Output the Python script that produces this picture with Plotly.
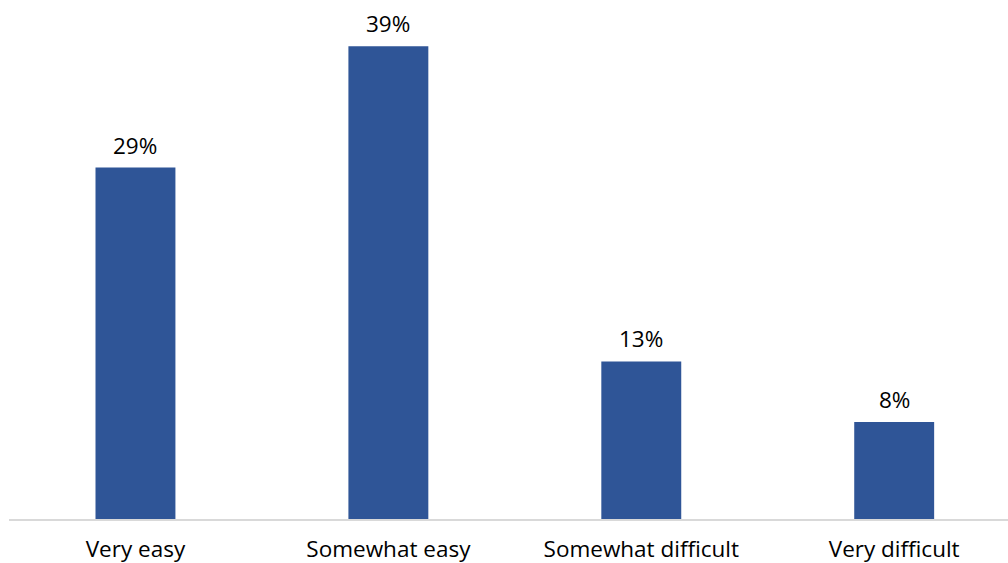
import plotly.graph_objects as go

categories = ["Very easy", "Somewhat easy", "Somewhat difficult", "Very difficult"]
values = [29, 39, 13, 8]
labels = [f"{v}%" for v in values]

BAR_COLOR = "#2F5597"
FONT = "'Open Sans', sans-serif"
FS = 22.5

fig = go.Figure(go.Bar(
    x=list(range(len(categories))), y=values,
    marker=dict(color=BAR_COLOR, line=dict(width=0)),
    width=0.316,
    hoverinfo="skip",
))

for i, (v, t) in enumerate(zip(values, labels)):
    fig.add_annotation(x=i, y=v, text=t, showarrow=False, yanchor="bottom",
                       yshift=5, font=dict(family=FONT, size=FS, color="#000000"))

fig.update_layout(
    width=1008, height=563,
    margin=dict(l=9, r=0, t=10, b=44, autoexpand=False),
    paper_bgcolor="white", plot_bgcolor="white",
    showlegend=False,
    font=dict(family=FONT, size=FS, color="#000000"),
    xaxis=dict(
        range=[-0.5, 3.45], automargin=False,
        tickmode="array", tickvals=list(range(len(categories))), ticktext=categories,
        showgrid=False, zeroline=False,
        showline=True, linecolor="#D9D9D9", linewidth=1.5,
        ticks="", ticklabelstandoff=9,
        tickfont=dict(family=FONT, size=FS, color="#000000"),
    ),
    yaxis=dict(range=[0, 42], visible=False, showgrid=False, zeroline=False, automargin=False),
)

fig.write_html("out.html", config={"displayModeBar": False},
               post_script="document.body.style.margin='0';document.body.style.overflow='hidden';")
